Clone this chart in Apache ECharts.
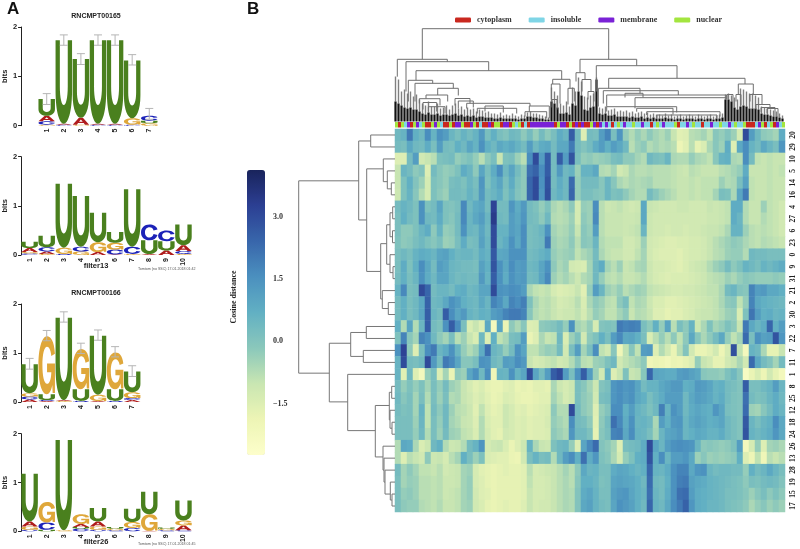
<!DOCTYPE html>
<html>
<head>
<meta charset="utf-8">
<script src="https://cdn.jsdelivr.net/npm/echarts@6/dist/echarts.min.js"></script>
<style>
    body { margin: 0; background: #fff; }
    #picture { width: 800px; height: 549px; }
</style>
</head>
<body>
<div id="picture"></div>
<script>
// sequence logos: every position is a bottom to top stack of [letter, bits]
var logo1Labels = ['', '1', '2', '3', '4', '5', '6', '7', '', ''];
var logo1Stacks = [
    [],
    [['G', .02], ['C', .07], ['A', .11], ['U', .34]],
    [['C', .02], ['A', .02], ['U', 1.69]],
    [['G', .02], ['A', .14], ['U', 1.19]],
    [['C', .02], ['A', .02], ['U', 1.69]],
    [['C', .02], ['A', .02], ['U', 1.69]],
    [['C', .02], ['G', .13], ['U', 1.17]],
    [['G', .05], ['U', .05], ['C', .1]]
];
var logo1Errors = [[1, .43, .65], [2, 1.63, 1.84], [3, 1.24, 1.46], [4, 1.63, 1.84], [5, 1.63, 1.84], [6, 1.23, 1.44], [7, .13, .35]];

var logo2Labels = ['1', '2', '3', '4', '5', '6', '7', '8', '9', '10'];
var logo2Stacks = [
    [['C', .03], ['G', .03], ['A', .08], ['U', .13]],
    [['G', .02], ['A', .05], ['C', .09], ['U', .23]],
    [['C', .02], ['G', .13], ['U', 1.3]],
    [['G', .07], ['C', .1], ['U', 1.03]],
    [['A', .06], ['G', .2], ['U', .6]],
    [['A', .01], ['C', .1], ['G', .14], ['U', .22]],
    [['G', .02], ['C', .15], ['U', 1.17]],
    [['A', .02], ['U', .28], ['C', .32]],
    [['A', .09], ['U', .19], ['C', .22]],
    [['G', .02], ['C', .06], ['A', .12], ['U', .42]]
];

var logo3Labels = ['1', '2', '3', '4', '5', '6', '7', '', '', ''];
var logo3Stacks = [
    [['A', .05], ['C', .06], ['G', .07], ['U', .59]],
    [['A', .02], ['C', .02], ['U', .12], ['G', 1.18]],
    [['G', .02], ['A', .02], ['U', 1.68]],
    [['C', .02], ['U', .24], ['G', .82]],
    [['A', .02], ['G', .13], ['U', 1.2]],
    [['C', .02], ['U', .24], ['G', .75]],
    [['A', .04], ['C', .04], ['G', .12], ['U', .42]]
];
var logo3Errors = [[0, .67, .89], [1, 1.25, 1.46], [2, 1.63, 1.84], [3, .99, 1.2], [4, 1.26, 1.47], [5, .92, 1.13], [6, .52, .74]];

var logo4Labels = ['1', '2', '3', '4', '5', '6', '7', '8', '9', '10'];
var logo4Stacks = [
    [['C', .03], ['G', .07], ['A', .1], ['U', .98]],
    [['U', .03], ['C', .15], ['G', .42]],
    [['G', .02], ['U', 1.85]],
    [['C', .05], ['U', .04], ['A', .06], ['G', .2]],
    [['C', .03], ['G', .07], ['A', .1], ['U', .28]],
    [['C', .02], ['G', .03], ['U', .04]],
    [['C', .07], ['G', .12], ['U', .27]],
    [['A', .01], ['G', .34], ['U', .46]],
    [['C', .02], ['G', .03], ['U', .03]],
    [['C', .02], ['A', .1], ['G', .1], ['U', .41]]
];

// heatmap rows, top to bottom
var rowLabels = ['20', '29', '10', '5', '14', '16', '4', '27', '6', '23', '0', '9', '31', '21', '2', '30', '3', '22', '7', '11', '1', '8', '25', '12', '18', '24', '26', '13', '28', '19', '15', '17'];
var heatRows = [
    [.4,.6,2.0,.7,.4,1.6,.6,1.5,1.2,.5,.2,.6,.3,.6,1.3,.2,.7,.2,0,.4,.3,-.2,.3,-.3,.3,-.2,.2,.8,.5,2.6,.3,-1.5,.3, .2,1.2,1.8,.2,1.4,-.3,-.7,-.3,-.6,-.2,-.5,-.7,-.4,-1,-1.6,-1.5,-.8,-.7,-.5,-.9,-.1,-.3,0,-.4,-1.3,3,1.2,.4,-.2,-.3,-.5,.8],
    [.3,.2,.9,.4,.3,.8,.2,1.2,.3,.2,.7,.4,1,.6,1.5,.7,.4,.9,.7,.9,.6,.3,1.2,.4,.8,.9,.3,.9,.9,2,.3,0,.3, .8,1.2,.7,1.2,.9,.4,-.8,-.4,-.2,-.7,-.5,-.7,-.6,-.8,-1.9,-1.6,-.8,-1.7,-1.4,-.6,-.1,-.4,.8,-1.5,.9,1.6,.6,.3,.9,.5,.2,1.4],
    [-1.5,-1.5,.3,1.2,-1.2,-1,-.8,.1,.2,.3,-.3,-.1,.1,-.3,-.8,-.2,.2,-1,.1,.2,-.4,-.8,1.6,3,1.2,2.6,.3,2.6,1.2,2.8,.2,-.3,-.2, -.4,-.3,-.2,.2,.3,-.2,-.2,-.5,-.7,.4,.2,.1,.5,-.6,-.7,-.7,-.3,-.6,-.7,-.9,-.1,.6,.7,-.6,-.7,1.6,.3,-.9,-1,-.9,-1,-1],
    [-1,.5,.3,-.2,0,-1.5,.3,-.1,-.3,-.2,.1,.8,.5,-.2,1,.2,.8,1.6,.4,1,.3,-.2,2.2,2.5,1.6,2.6,.3,1.3,.4,.6,-.4,.6,.6, .9,-.7,-.8,-.5,-1.2,-1,-.6,-.8,-.8,-.7,-.8,-.8,-.8,-.9,-1,-1.1,-.8,-.9,-1,-1,-1,-.8,-.7,-.5,-.3,.8,-1,-1,-1,-.9,-1,-.9],
    [-1,.1,.7,0,-.4,-1.3,.1,-.1,-.3,.2,.3,.1,.5,.2,1.4,.1,.6,1,.2,.8,.1,-.2,2.4,3,1.5,2.8,.3,.8,.4,2.3,-.3,.3,.3, .3,-.1,.5,-.1,-.6,-.8,-.6,-.7,-.6,-.5,-.8,-.8,-.8,-.9,-1,-1,-.9,-1,-.9,-.9,-.9,-.4,-.7,-.6,.2,1.1,-.9,-1,-1,-.9,-1,-1],
    [-1.1,.1,.6,-.1,-.7,-1.3,.1,-.2,-.4,.3,.3,.2,.6,.3,1.3,.3,.5,.8,.1,.6,0,-.2,2.4,3,1.4,2.9,.4,.7,.4,2.4,-.3,.2,.2, 0,-.1,.5,.1,.2,-.2,-.5,-.7,-.7,.3,-.1,-.4,-.6,-.8,-1,-1,-.9,-1,-.9,-.9,-.5,.2,.1,-.6,1,2,-.9,-1,-1,-.9,-1,-1],
    [.3,.6,.4,.1,1.5,.1,.3,1,.1,0,.2,1.7,.4,.8,1,.3,3.2,.3,.3,1.4,.8,1.3,.3,.1,-.3,.1,-.6,-.8,-.6,-.2,-1.3,-.3,-.4, 1.6,-.8,-1.1,-1,-.9,-1.1,-1.2,-1.1,.9,-1,-1.1,-1.2,-1.2,-1.2,-1.1,-1.1,-1.2,-1.2,-1.2,-1,-1.1,-1,-.9,.8,.8,-.7,-1,-1,-.4,-.9,-1,-1.2],
    [.2,.7,.3,.1,1.5,.4,.3,.8,.1,-.1,.3,1.7,.5,.9,1.2,.5,3.4,.4,.3,1.2,.9,1.4,.3,.2,-.2,.4,-.7,-.8,-.7,-.4,-1.3,-.2,-.4, 1.7,-.8,-1,-1,-1,-1.1,-1.1,-1,.9,-1.1,-1.2,-1.2,-1.2,-1.2,-1.2,-1.2,-1.2,-1.2,-1.2,-1.1,-1.1,-1,-.9,.8,.5,-.7,-1,-1,-.7,-.9,-1,-1.2],
    [.2,-.2,-.2,.1,.5,.8,-.2,.6,-.3,-.2,.3,1.5,.5,.4,1,.4,3,.6,.6,1.2,1,1.6,.2,.3,.5,1.5,-.5,-.7,-.6,-.3,-1,-.1,-.3, 1.2,-.8,-1,-1,-1,-1.1,-1,-.9,.5,-1.1,-1.2,-1.2,-1.3,-1.2,-1.2,-1.3,-1.2,-1.2,-1.1,-1,-1,-.9,-.6,.6,.6,-.4,-.8,-.9,-.8,-.9,-1,-1.2],
    [.1,-.2,-.1,.2,.4,.1,-.1,.2,-.4,-.3,.2,.8,.2,.3,1.1,.5,3,.5,.8,1.5,.9,1.6,.2,.3,.4,2,-.4,-.6,-.5,-.2,-.8,-.1,-.2, .5,-.7,-.9,-.9,-.9,-1.2,-1.2,-1,-.4,-1.2,-1.3,-1.4,-1.5,-1.5,-1.4,-1.4,-1.3,-1.3,-1.2,-1,-.8,-.6,-.4,-.2,-.3,-.6,-.8,-.9,-.7,-.8,-.9,-1],
    [.2,.4,.2,.6,.8,.7,.5,1,1.1,.7,.4,.5,.5,.3,.8,.6,2.7,.9,1,1.5,1.5,1.5,.3,.4,.6,.8,-.3,-.5,-.4,-.3,-.9,-.6,-.4, .3,-.6,-.9,-1,-1,-1.2,-1.2,-.9,-.5,-1.2,-1.4,-1.5,-1.5,-1.5,-1.6,-1.4,-1.3,-1.3,-1.2,-1,-.8,-.7,-.4,-.3,-.3,-.7,.4,.3,.3,.2,.2,.2],
    [.2,.8,.1,.7,1.6,.9,.3,1.2,1,.5,.4,.3,.3,.2,1.1,.7,2.8,1.5,.9,1.6,1.2,1.3,.4,.5,1,1.5,-.2,-.6,-.4,-1.2,-1.3,-1.4,-.5, .4,.8,-.5,-.8,-.4,-1,-.9,-.6,-.5,-1.1,-1.3,-1.3,-1.4,-1.5,-1.6,-1.4,-1.2,-1.1,-1,-.7,-.4,-.2,.3,-.2,.1,.6,.4,.2,.6,.4,.6,.8],
    [.3,.7,.2,.5,1.5,.8,.4,1,1,.5,.3,.4,.3,.3,1.3,.6,2.6,1.5,.8,1.5,1.2,1.3,.3,.4,1,1.7,-.4,-.7,-.5,-.8,-1.1,-.7,-.5, .4,-.3,-.8,-.9,-.7,-1,-1,-.9,-.7,-1.1,-1.3,-1.4,-1.5,-1.4,-1.4,-1.4,-1.3,-1.2,-1.1,-.9,-.8,-.7,-.4,-.6,-.3,-.1,-.2,-.3,-.3,-.3,-.2,-.3],
    [.6,1.7,.2,.3,3,2.4,.3,.5,.5,.3,.7,.8,.4,.5,1,1,3,1.5,1.4,1.6,1.5,1.2,-.6,-.9,-1,-.9,-1.3,-1.5,-1.4,-1.3,-1,-1.6,-.3, 1.2,.5,-.4,-.6,-.3,-.8,-.6,-.4,-.5,-.9,-1,-1.1,-1.2,-1.3,-1.3,-1.2,-1.2,-1.1,-1,-.9,-.9,-.6,.3,.5,0,-.1,1.8,1.2,1.3,.9,.9,.7],
    [.3,.7,.2,.4,.9,2.5,.4,.5,.9,1.5,1.2,.7,.5,.4,.9,.5,1.8,1.5,.9,1.8,1.6,1.9,.1,-.6,-.9,-.8,-1,-1.3,-1.2,-1.1,-.8,-1.4,-.6, -.2,-.4,-.8,-.9,-.2,.2,-.9,-.6,-.7,-1.1,-1.4,-1.4,-1.6,-1.6,-1.5,-1.4,-1.3,-1.2,-1.1,-1,-.9,-.6,-.2,-.1,-.9,-.3,1.8,.9,.7,.6,.5,.4],
    [.3,.7,.2,.4,1,2.6,.5,.3,2.6,1.6,1,1.3,.6,.4,.7,.6,1.2,1.4,1.8,2,2,1.8,-.1,-.7,-.9,-.8,-1,-1.2,-1.1,-1.1,-.9,-1.3,-.8, -.3,-.5,-.9,-.9,-.5,-.2,-1,-.7,-.8,-1,-1.5,-1.5,-1.7,-1.6,-1.6,-1.4,-1.3,-1.1,-1,-1,-.9,-.7,-.4,-.3,-1.4,.1,2.1,1.2,.7,.8,.5,.6],
    [.7,-.7,1,-.7,.5,2.6,.3,.1,1.5,2.6,1.6,.2,-1.4,-1,-1.5,.9,-2.2,1,-1.8,-.2,-.6,-.1,-1.5,-1.4,-.2,-.1,0,.3,-.3,1.5,-.5,-.7,-.3, -1.3,0,.1,0,2,1.8,1.9,1.8,.2,-.2,.7,-.3,1,-.8,.2,-.2,.6,-1.1,-.6,.1,-.5,-.3,.1,-.2,-1,2,.9,.5,.8,2.4,.7,1.2],
    [.1,1.8,-.1,-.5,1.8,1.5,.4,-.2,-.5,.2,-.8,-.4,-1,-1.4,.4,-1.5,.7,-.9,-.6,.2,.3,1.2,-1.8,-1.5,-.6,-1,-.9,.4,-1.4,-.4,.1,-1.2,-.2, .1,.7,.2,1.2,1.7,.9,1,.7,.2,-1.4,-.8,-.3,-.8,-.2,-.9,-.2,.9,-.1,-.6,-.2,.3,.9,-.3,-.9,-.5,2.3,.2,1.5,1.1,1.2,2.8,1.4],
    [1.5,3.2,-.2,-1.5,.2,1.6,2,.5,.8,1.5,.5,-.3,-.7,-.4,.8,2.2,.5,.3,-.3,.3,1.5,1,-.9,-.9,-.5,-.3,-.4,.3,-1.2,.2,1.2,-.5,.2, 1.6,-.9,-1.2,-.1,-2,-.9,-.1,-.9,1.2,1.3,-1.5,-.7,-1.2,-1.8,-.8,0,-1.2,-1.8,-1.8,-1.6,-1.2,-1.9,-1.3,2.9,-.9,-2.2,.6,.4,-.6,-1.7,-1.7,-1],
    [.6,3,.3,.2,.4,3,1.3,.3,2,1.7,1,-.1,-.1,.2,1.5,1.4,.4,.2,1.2,1.1,1.6,1.3,-1,-1.3,-1.2,-1,-.9,-1.2,-1.1,-.7,-.1,-.8,-.9, -.4,-.3,.1,.4,-1.2,-.9,-.7,-.5,-.2,-2,-1.8,-1.9,-2.1,-1.8,-1.9,-1.7,-1.5,-.3,-1,-1.2,-1.7,-1.7,-1.2,-1,-.6,-1.2,2.3,.9,.3,0,-.5,.3],
    [.6,-1.6,.4,-1.5,-2.2,-.3,.2,-1.5,-.5,-1.8,-.2,-.4,1,1.5,.4,1.6,-2,.6,.5,1.5,.6,1,3,1,.3,1.2,2.6,3,1.2,.2,1.5,2.6,1.2, -.4,-1.2,.7,-1.5,-1,.1,-1,-.9,-.1,2.4,1,.9,.8,.8,1.2,1.3,1.1,.9,-.1,-.2,-.2,-.3,.1,.4,-.1,-2.4,-1.8,-1.4,-1.9,-1.2,-1.7,-2.2],
    [.3,-.3,.1,-.3,.1,-.5,.2,-.3,.3,-.4,-.6,-1,-1.3,-1.6,-1.4,-1.7,-1.8,-1.8,-1.6,-1.5,-1.8,-1.7,-1.8,-1.6,-1.6,-1.7,-.6,-1.1,-1.3,-1.1,.2,-.1,-.5, -1.1,0,.2,1.4,1.6,1.4,1.5,1,.3,.6,.6,.9,1.1,1.3,1.3,.7,.8,1.3,1.2,1,.6,.7,.3,.2,0,2.6,.2,.2,.4,.6,1.2,.5],
    [.4,-.1,.2,-.5,.2,-.7,.2,-.4,.2,-.7,-.6,-1,-1.2,-1.5,-1.3,-1.6,-1.8,-1.7,-1.4,-1.5,-1.7,-1.8,-1.8,-1.7,-1.6,-1.6,-.5,-.9,-1.3,-1.1,.2,-.2,-.4, -1.2,.2,.3,1.4,1.6,1.3,1.5,.9,.7,.2,.5,.8,1.2,1.2,1.2,.4,.9,1.2,1.1,.9,.6,.8,.3,.1,0,2.2,.3,.1,.2,.5,.8,.4],
    [.3,.1,.2,-.5,.6,-.9,.3,-.2,.4,-.4,-.8,-.9,-1.1,-1.6,-.9,-1.5,-1.7,-1.6,-1.1,-1.3,-1.6,-1.5,-1.7,-1.6,-1.5,-1.4,-.2,-.7,-.7,3,.3,-.2,-.4, -1.5,-.3,0,1.6,1.6,.7,1.2,.6,.4,.1,.4,1.9,.6,1.5,1.2,.4,.8,1,.8,.7,1.4,1,.2,.1,0,2.3,-.4,-.5,-.1,.3,.8,.5],
    [.2,.2,.2,-.4,.5,-.9,.2,-.3,.4,-.5,-.7,-1,-1.1,-1.5,-.7,-1.4,-1.6,-1.6,-1.1,-1.3,-1.5,-1.4,-1.6,-1.5,-1.5,-1.3,-.3,-.5,-.7,1.6,.3,.2,-.2, -1.6,-.2,.3,2.2,1.7,.8,1.5,.5,.6,.4,-.6,1.2,.7,1.3,1.4,.5,.9,1.1,.9,.7,.8,1,.4,.2,0,2.7,.5,.2,.5,.7,1.6,.9],
    [.2,.2,.2,-.3,.4,-.7,.2,-.4,.3,-.4,-.5,-.9,-1,-1.4,-.7,-1.3,-1.6,-1.7,-1.2,-1.3,-1.5,-1.4,-1.6,-1.5,-1.5,-1.4,-.2,-.4,-.6,1.4,.4,.4,.1, -1.7,-.1,.2,1.8,1.9,.9,1.6,.6,.5,.2,-.5,.5,1,1.1,1.3,.5,.7,.9,.8,.6,.6,.8,.4,.2,0,2.8,.6,.4,.6,.8,1.4,.9],
    [-.7,.9,.8,-.6,-1.4,-1.1,.4,.7,-.7,-1.1,-1,-.7,.3,.6,1.4,-1.3,-1.1,-1,-1.4,-1.8,-1.5,-1.1,.6,-.6,-1,-1.1,.1,.4,.5,-.3,-1.5,1,1.7, 2.3,0,-.2,-.5,-1.5,.2,.3,.4,.8,3,1,.5,1.2,1.5,1.6,1.5,1.4,.5,-.2,-.1,-.2,-.3,-.2,.1,1.2,-2.2,-1.3,-.3,-1.5,-.5,-.4,-.6],
    [-.7,-1.5,-.8,-1,-1.2,-.2,-1.1,-1,-1.3,-.8,-.5,.7,.2,-.4,.1,-1.4,-1.5,-1.6,-1.6,-1.8,-1.9,-1.2,.2,.6,.2,.3,-.7,.4,1.2,1.6,.7,2.2,.8, 1.4,.1,-.1,-.6,-1.3,-.3,.1,.7,.8,2.8,.7,1.6,.5,1.2,1.2,1.4,.9,-.4,-.1,-.4,-.3,-.4,-.3,-.2,.7,-1.5,-1.9,-.9,-2,-.8,-1,-.8],
    [.3,-.5,-.2,-.5,-.9,-.9,-1,-.8,-1.2,-1.1,-1,-.5,-.4,-1.3,-1.6,-1.7,-1.8,-1.7,-1.6,-1.7,-1.7,-1.6,-.8,-1.3,-1.2,-1.1,-1,-.8,-.5,-.8,-.2,.9,.5, .6,.2,.2,.8,1,.9,.7,.5,.7,2.4,.6,.5,.8,1.5,1.8,1.8,.9,1.4,1.5,.5,.3,.4,.4,.3,.3,-.3,.7,.3,.5,.9,.5,.2],
    [.2,-.5,-.3,-.4,-.8,-.8,-.9,-.8,-1.1,-1.1,-1,-.5,-.3,-1.3,-1.5,-1.7,-1.8,-1.7,-1.7,-1.7,-1.7,-1.6,-.9,-1.3,-1.3,-1.2,-1,-.8,-.6,-.8,-.1,.7,.7, .5,.1,.2,1,1.1,1,.9,.7,.4,2.3,.4,.3,.7,1.5,1.9,2,1.1,.9,.8,.6,.5,.4,.3,.2,.1,-.2,.2,.1,.3,.4,.3,0],
    [.2,-.3,-.2,-.4,-.8,-.8,-.9,-.8,-1.1,-1,-.9,-.5,-.3,-1.2,-1.5,-1.6,-1.8,-1.7,-1.7,-1.7,-1.7,-1.6,-1,-1.3,-1.3,-1.2,-1,-.8,-.6,-.7,0,.8,1, .6,.2,.2,1.1,1.3,1.4,1,.7,.5,2.2,.5,.3,.8,1.5,2.2,2.3,1.2,.8,.7,.6,.5,.4,.2,.2,.1,-.1,-.4,-.1,.2,-.2,.1,-.2],
    [.2,-.2,-.3,-.3,-.7,-.8,-.9,-.7,-1,-1,-.9,-.5,-.4,-1.2,-1.4,-1.7,-1.8,-1.7,-1.6,-1.7,-1.7,-1.5,-1,-1.3,-1.2,-1.2,-1,-.8,-.6,-.7,0,.9,1.1, .6,.3,.2,1,1.5,1.3,1.1,.7,.4,2.4,.6,.4,.9,1.6,2,2.5,1.4,.8,.7,.5,.5,.4,.2,.1,0,-.2,-.6,-.3,-.1,-.4,-.2,-.4]
];

// annotation strip above the heatmap, one letter per slice
var stripClasses = 'ncnimcnminccnmnicc' + 'ncmmnccmnciocm'.replace('o', 'c') + 'cnncmmcnincicmmmmmmmmcnmmcnc' + 'mcmccnmcmimicinimiiniimiicinimiiincii' + 'minii' + 'ciimiiniiminiincccimnci' + 'ncmincinci';
stripClasses = stripClasses.slice(0, 130).split('');
var className = { c: 'cytoplasm', i: 'insoluble', m: 'membrane', n: 'nuclear' };
var classColor = { c: '#c9281f', i: '#7fd5e6', m: '#7a22d6', n: '#a3e53f' };

// top dendrogram: branch tops and dense black part per slice, then merges [x1, h1, x2, h2, top]
var leafTop = [45,42,30,32,28,30,25,27,22,18,16,20,15,15,18,13,14,16,12,16,18,13,15,12,14,12,13,10,12,11,9,10,8,8,7,9,6,7,6,8,6,5,7,6,9,10,8,8,7,6,5,4,34,30,26,18,16,20,15,34,30,44,40,25,24,26,28,44,14,13,15,11,12,13,10,11,10,11,9,10,8,9,10,8,9,7,8,7,7,6,8,6,7,5,6,7,5,6,7,6,5,7,6,5,6,7,5,6,7,8,27,28,26,24,22,33,32,30,28,28,26,24,15,14,13,12,11,10,8,6];
var leafDark = [20,18,16,14,13,14,12,12,10,8,7,9,7,7,8,6,7,7,6,7,8,6,7,5,6,5,6,4,5,5,4,4,4,3,3,4,3,3,3,3,3,2,3,3,5,5,4,4,3,3,2,2,20,18,14,8,8,9,7,18,16,30,26,12,11,14,15,42,8,7,8,6,6,7,5,5,5,5,4,5,4,4,5,3,4,3,4,3,3,3,4,3,3,2,3,3,2,3,3,3,2,3,3,2,3,3,2,3,3,4,22,22,20,14,12,15,16,15,13,13,13,12,8,7,7,6,5,5,4,3];
var topMerges = [
    [27.3,62.2,213.7,62.2,92.8], [2.3,44.8,52.3,59.8,62.2], [11,30,93.7,50.8,59.8], [21,41.2,166.7,42.2,50.8],
    [185,48.8,241.7,55.8,62.2], [201.3,30,282,43.2,55.8], [213.7,33.2,350,37.5,43.2],
    [13.3,20,37.7,38.2,41.2], [20,20,58.3,33.2,38.2], [42.7,26.5,63.3,26,33.2], [31,22.8,52.7,20,26.5],
    [24.3,18,45,16,22.8], [60,16,75,18.2,23], [63.3,13,78.3,14,20.5], [71.7,13,135,15.5,18.2],
    [90,10,108.3,9,15.5], [82.3,8,121.7,8,13.2], [134.3,9.8,154.3,3,15.5], [130,5,151.7,3,9.8],
    [28,12,41.7,10,19], [33.3,10,50,8,14.8],
    [157.7,37.5,175,33.2,42.2], [156.3,22,165,18,37.5], [173,17,179.3,20,33.2], [157,14,162,12,22],
    [181,40,190,42,48.8], [187,30,196,30,42], [193,22,199,20,30],
    [203.3,15,245,28.2,33.2], [208.3,18,283.3,26.5,30.8], [230,24,248,24,28.2], [211.7,14.8,331.7,23.8,26.5],
    [240,13.2,331.7,22,23.8], [211.7,10,281.7,9,14.8], [241.7,9.8,278,7,13.2], [251.7,6.5,325,5,9.8], [262,3,322,3,6.5],
    [332,22,338,14,27], [343.3,27,358.3,27,37.5], [341,20,346,16,27], [355,20,367,17,27],
    [361,12,375,13,17], [372,8,383,4,13], [366,9,380,5,14]
];

// left dendrogram merges [row1, depth1, row2, depth2, top], row is the row position, depth counts from the heatmap
var sideMerges = [
    [0,0,1,0,24.3], [4,0,5,0,3.7], [3,0,4.5,3.7,7.7], [2,0,3.9,7.7,11.7],
    [6,0,7,0,2.3], [8,0,9,0,2.5], [6.5,2.3,8.5,2.5,5], [11,0,12,0,2], [10,0,11.5,2,5], [7.5,5,10.8,5,8.3],
    [14,0,15,0,6.7], [13,0,14.5,6.7,12.7], [9.08,8.3,13.7,12.7,14.3], [2.83,11.7,11.4,14.3,28.3], [.5,24.3,7.1,28.3,36.3],
    [16,0,17,0,28.7], [18,0,19,0,31.7], [16.5,28.7,18.5,31.7,44.3],
    [21,0,22,0,3.3], [24,0,25,0,3], [23,0,24.5,3,5], [21.5,3.3,23.8,5,5.7],
    [30,0,31,0,3], [29,0,30.5,3,4.7], [28,0,30,4.7,10], [27,0,29,10,11], [26,0,28,11,12], [22.6,5.7,26.9,12,19.7],
    [20,0,24.7,19.7,47.3], [17.4,44.3,22.3,47.3,65.7], [3.83,36.3,19.9,65.7,96.3]
];

var colorbarTicks = [-1.5, 0, 1.5, 3];
var heatColors = ['#fdfecb', '#edf5b5', '#c9e6b2', '#8bc8bb', '#62b0c3', '#4b90bf', '#3866ab', '#2c3f93', '#19245c'];

var letterColor = { A: '#b01c1c', C: '#1c22b8', G: '#dfa73a', U: '#4a801e' };
var letterPath = {
    A: 'M38 0H62L100 100H75L67 76H33L25 100H0ZM50 24L39 58H61Z',
    C: 'M100 32C94 10 74 0 52 0C20 0 0 22 0 50C0 80 20 100 52 100C76 100 94 88 100 66L76 60C72 74 64 82 52 82C34 82 24 68 24 50C24 32 34 18 52 18C64 18 72 26 76 38Z',
    G: 'M100 30C95 8 75 0 52 0C20 0 0 22 0 50C0 80 20 100 50 100C64 100 76 95 84 84L86 98H100V47H52V62H78C76 76 66 82 52 82C34 82 24 68 24 50C24 32 34 18 52 18C64 18 74 23 78 34Z',
    U: 'M0 0H26V55C26 85 74 85 74 55V0H100V60C100 113 0 113 0 60Z'
};
var letterOrder = ['A', 'C', 'G', 'U'];

var sans = '"Liberation Sans", Arial, sans-serif';
var serif = '"Liberation Serif", "Times New Roman", serif';

var renderLetter = function(params, api) {
    var top = api.coord([api.value(0), api.value(2)]);
    var bottom = api.coord([api.value(0), api.value(1)]);
    var band = api.size([1, 0])[0];
    var letter = letterOrder[api.value(3)];
    return {
        type: 'path',
        shape: {
            pathData: letterPath[letter],
            layout: 'cover',
            x: top[0] - band / 2 + .3,
            y: top[1],
            width: band - .6,
            height: Math.max(bottom[1] - top[1], .5)
        },
        style: { fill: letterColor[letter] }
    };
};

var renderError = function(params, api) {
    var low = api.coord([api.value(0), api.value(1)]);
    var high = api.coord([api.value(0), api.value(2)]);
    var lineStyle = { stroke: '#b5b5b5', lineWidth: 1, fill: null };
    return {
        type: 'group',
        children: [
            { type: 'line', shape: { x1: low[0], y1: low[1], x2: high[0], y2: high[1] }, style: lineStyle },
            { type: 'line', shape: { x1: low[0] - 4, y1: high[1], x2: low[0] + 4, y2: high[1] }, style: lineStyle },
            { type: 'line', shape: { x1: low[0] - 4, y1: low[1], x2: low[0] + 4, y2: low[1] }, style: lineStyle }
        ]
    };
};

var renderTopMerge = function(params, api) {
    var points = [
        api.coord([api.value(0), api.value(1)]),
        api.coord([api.value(0), api.value(4)]),
        api.coord([api.value(2), api.value(4)]),
        api.coord([api.value(2), api.value(3)])
    ];
    return { type: 'polyline', shape: { points: points }, style: { stroke: '#6f6f6f', lineWidth: 1, fill: null } };
};

var renderSideMerge = function(params, api) {
    var points = [
        api.coord([api.value(1), api.value(0)]),
        api.coord([api.value(4), api.value(0)]),
        api.coord([api.value(4), api.value(2)]),
        api.coord([api.value(3), api.value(2)])
    ];
    return { type: 'polyline', shape: { points: points }, style: { stroke: '#777', lineWidth: 1, fill: null } };
};

var renderLeaf = function(params, api) {
    var x = api.value(0) + .5;
    var base = api.coord([x, 0]);
    var dark = api.coord([x, api.value(2)]);
    var top = api.coord([x, api.value(1)]);
    return {
        type: 'group',
        children: [
            { type: 'line', shape: { x1: top[0], y1: top[1], x2: top[0], y2: dark[1] }, style: { stroke: '#808080', lineWidth: 1.4 } },
            { type: 'line', shape: { x1: base[0], y1: base[1], x2: base[0], y2: dark[1] }, style: { stroke: '#111', lineWidth: 2.2 } }
        ]
    };
};

var renderStripCell = function(params, api) {
    var start = api.coord([api.value(0), 1]);
    var end = api.coord([api.value(0) + 1, 0]);
    return {
        type: 'rect',
        shape: { x: start[0], y: start[1], width: end[0] - start[0], height: end[1] - start[1] },
        style: api.style()
    };
};

var stackItems = function(stacks) {
    var items = [];
    stacks.forEach(function(stack, pos) {
        var y = 0;
        stack.forEach(function(part) {
            items.push([pos, y, y + part[1], letterOrder.indexOf(part[0])]);
            y += part[1];
        });
    });
    return items;
};

var grids = [
    { left: 18, top: 27, width: 174, height: 98.7 },
    { left: 18, top: 156.7, width: 174, height: 98.3 },
    { left: 18, top: 304, width: 174, height: 98 },
    { left: 18, top: 433.7, width: 174, height: 97.6 },
    { left: 395, top: 129, width: 390, height: 383 },
    { left: 395, top: 122, width: 390, height: 5.5 },
    { left: 395, top: 20, width: 390, height: 101.5 },
    { left: 295, top: 129, width: 100, height: 383 },
    { left: 247, top: 170, width: 18, height: 285 }
];

var logoX = function(idx, labels) {
    return {
        gridIndex: idx,
        type: 'category',
        data: labels,
        axisLine: { show: false },
        axisTick: { show: false },
        axisLabel: { interval: 0, rotate: 90, fontSize: 7, fontWeight: 'bold', fontFamily: sans, color: '#222', margin: 3 }
    };
};
var logoY = function(idx) {
    return {
        gridIndex: idx,
        type: 'value',
        min: 0,
        max: 2,
        interval: 1,
        name: 'bits',
        nameLocation: 'middle',
        nameGap: 9,
        nameTextStyle: { fontSize: 7.5, fontWeight: 'bold', fontFamily: sans, color: '#222' },
        axisLine: { show: true, lineStyle: { color: '#222', width: 1 } },
        axisTick: { show: true, length: 3, lineStyle: { color: '#222' } },
        axisLabel: { fontSize: 7.5, fontWeight: 'bold', fontFamily: sans, color: '#222', margin: 4 },
        splitLine: { show: false }
    };
};
var hiddenValue = function(idx, min, max, inverse) {
    return { gridIndex: idx, type: 'value', min: min, max: max, inverse: !!inverse, show: false, splitLine: { show: false } };
};

var colNames = [];
for (var c = 0; c < heatRows[0].length; c++) colNames.push(String(c));

var heatData = [];
heatRows.forEach(function(row, r) {
    row.forEach(function(v, c) {
        heatData.push([c, r, v]);
    });
});

var leafData = leafTop.map(function(h, i) {
    return [i * 3, h, leafDark[i]];
});

var customSeries = function(idx, name, data, render, z) {
    return {
        type: 'custom',
        name: name,
        xAxisIndex: idx,
        yAxisIndex: idx,
        data: data,
        renderItem: render,
        silent: true,
        clip: false,
        z: z || 2
    };
};

var series = [
    customSeries(0, 'logo1', stackItems(logo1Stacks), renderLetter),
    customSeries(0, 'logo1err', logo1Errors, renderError, 3),
    customSeries(1, 'logo2', stackItems(logo2Stacks), renderLetter),
    customSeries(2, 'logo3', stackItems(logo3Stacks), renderLetter),
    customSeries(2, 'logo3err', logo3Errors, renderError, 3),
    customSeries(3, 'logo4', stackItems(logo4Stacks), renderLetter),
    {
        type: 'heatmap',
        name: 'cosine',
        xAxisIndex: 4,
        yAxisIndex: 4,
        data: heatData,
        silent: true,
        progressive: 0,
        itemStyle: { borderWidth: 0 }
    },
    customSeries(6, 'leaves', leafData, renderLeaf),
    customSeries(6, 'topTree', topMerges, renderTopMerge, 3),
    customSeries(7, 'sideTree', sideMerges, renderSideMerge)
];
var heatIndex = 6;

['c', 'i', 'm', 'n'].forEach(function(key) {
    var cells = [];
    stripClasses.forEach(function(k, i) {
        if (k === key) cells.push([i]);
    });
    var s = customSeries(5, className[key], cells, renderStripCell);
    s.itemStyle = { color: classColor[key] };
    s.encode = { x: 0 };
    series.push(s);
});

var titleText = function(text, left, top, size, color, family, align) {
    return {
        text: text,
        left: left,
        top: top,
        padding: 0,
        textAlign: align || 'center',
        textStyle: { fontSize: size, fontWeight: 'bold', color: color || '#222', fontFamily: family || sans }
    };
};

var option = {
    animation: false,
    backgroundColor: '#fff',
    title: [
        titleText('A', 7, 1, 17, '#111', sans, 'left'),
        titleText('B', 247, 1, 17, '#111', sans, 'left'),
        titleText('RNCMPT00165', 96, 13, 7),
        titleText('filter13', 96, 262, 7.5),
        titleText('RNCMPT00166', 96, 289.5, 7),
        titleText('filter26', 96, 538, 7.5),
        {
            text: 'Tomtom (no SSC) 17.01.2018 01:42', left: 138, top: 266.5, padding: 0,
            textStyle: { fontSize: 3.6, fontWeight: 'normal', color: '#555', fontFamily: sans }
        },
        {
            text: 'Tomtom (no SSC) 17.01.2018 01:45', left: 138, top: 542, padding: 0,
            textStyle: { fontSize: 3.6, fontWeight: 'normal', color: '#555', fontFamily: sans }
        }
    ],
    graphic: [{
        type: 'text',
        x: 234,
        y: 297,
        rotation: Math.PI / 2,
        style: {
            text: 'Cosine distance',
            font: 'bold 8px ' + serif,
            fill: '#222',
            align: 'center',
            verticalAlign: 'middle'
        }
    }],
    legend: {
        data: ['cytoplasm', 'insoluble', 'membrane', 'nuclear'],
        left: 455,
        top: 16,
        padding: 0,
        itemWidth: 16,
        itemHeight: 5,
        itemGap: 17,
        silent: true,
        selectedMode: false,
        textStyle: { fontSize: 8, fontWeight: 'bold', fontFamily: serif, color: '#333', padding: [0, 0, 0, 1] }
    },
    visualMap: {
        type: 'continuous',
        seriesIndex: heatIndex,
        dimension: 2,
        min: -2.73,
        max: 4.12,
        calculable: false,
        hoverLink: false,
        left: 247,
        top: 170,
        padding: 0,
        itemWidth: 18,
        itemHeight: 285,
        showLabel: false,
        text: ['', ''],
        inRange: { color: heatColors }
    },
    grid: grids,
    xAxis: [
        logoX(0, logo1Labels),
        logoX(1, logo2Labels),
        logoX(2, logo3Labels),
        logoX(3, logo4Labels),
        { gridIndex: 4, type: 'category', data: colNames, show: false },
        hiddenValue(5, 0, 130),
        hiddenValue(6, 0, 390),
        hiddenValue(7, 0, 100, true),
        hiddenValue(8, 0, 1)
    ],
    yAxis: [
        logoY(0),
        logoY(1),
        logoY(2),
        logoY(3),
        {
            gridIndex: 4,
            type: 'category',
            data: rowLabels,
            inverse: true,
            position: 'right',
            axisLine: { show: false },
            axisTick: { show: false },
            axisLabel: { interval: 0, rotate: 90, fontSize: 7.5, fontWeight: 'bold', fontFamily: serif, color: '#222', margin: 4 }
        },
        hiddenValue(5, 0, 1),
        hiddenValue(6, 0, 101.5),
        hiddenValue(7, -.5, 31.5, true),
        {
            gridIndex: 8,
            type: 'value',
            min: -2.73,
            max: 4.12,
            position: 'right',
            axisLine: { show: false },
            axisTick: { show: false },
            splitLine: { show: false },
            axisLabel: {
                customValues: colorbarTicks,
                margin: 8,
                fontSize: 8,
                fontWeight: 'bold',
                fontFamily: serif,
                color: '#333',
                formatter: function(value) {
                    return (value < 0 ? '\u2212' : '') + Math.abs(value).toFixed(1);
                }
            }
        }
    ],
    series: series
};

var myChart = echarts.init(document.getElementById('picture'), null, { renderer: 'canvas' });
myChart.setOption(option);
</script>
</body>
</html>
